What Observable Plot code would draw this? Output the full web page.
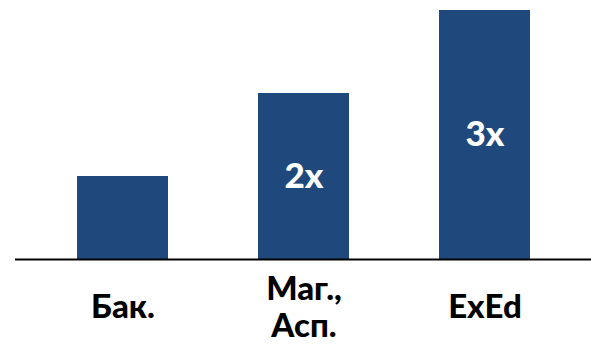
<!DOCTYPE html>
<html>
<head>
<meta charset="utf-8">
<script src="https://cdn.jsdelivr.net/npm/d3@7"></script>
<script src="https://cdn.jsdelivr.net/npm/@observablehq/plot@0.6"></script>
<style>
  html, body { margin: 0; padding: 0; background: #fff; }
</style>
</head>
<body>
<div id="chart"></div>
<script>
const categories = ["Бак.", "Маг., Асп.", "ExEd"];
const values = [1, 2, 3];
const tickLabels = ["Бак.", "Маг.,\nАсп.", "ExEd"];
const valueLabels = ["", "2x", "3x"];

const data = categories.map((c, i) => ({
  category: c,
  value: values[i],
  tick: tickLabels[i],
  label: valueLabels[i]
}));

const font = "Lato, 'Open Sans', sans-serif";

const chart = Plot.plot({
  width: 591,
  height: 345,
  marginTop: 10,
  marginBottom: 86,
  marginLeft: 15,
  marginRight: 0,
  style: { fontFamily: font, background: "#fff" },
  x: { domain: categories, range: [-15, 621], padding: 0.5, axis: null },
  y: { domain: [0, 3], axis: null },
  marks: [
    Plot.barY(data, { x: "category", y: "value", fill: "#1f497d" }),
    Plot.ruleY([0], { stroke: "#000", strokeWidth: 2 }),
    Plot.text(data, {
      x: "category",
      y: d => d.value / 2,
      text: "label",
      fill: "#fff",
      fontSize: 35,
      fontWeight: 900
    }),
    Plot.text(data, {
      x: "category",
      frameAnchor: "bottom",
      dy: 47,
      text: "tick",
      fill: "#000",
      fontSize: 33,
      fontWeight: 900,
      lineAnchor: "middle",
      lineHeight: 1.13
    })
  ]
});

document.getElementById("chart").appendChild(chart);
</script>
</body>
</html>
